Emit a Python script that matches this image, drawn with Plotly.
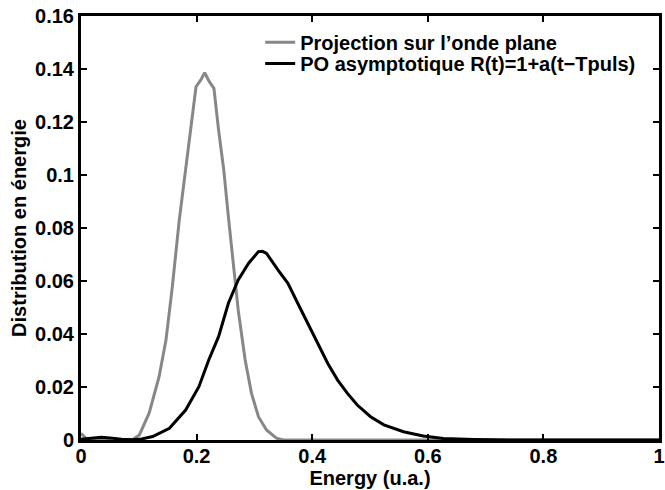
import plotly.graph_objects as go

# --- data ---
proj_x = [0, 0.01, 0.03, 0.06, 0.08, 0.09, 0.101, 0.118, 0.135, 0.147, 0.158, 0.170, 0.181,
          0.190, 0.199, 0.207, 0.214, 0.222, 0.230, 0.238, 0.247, 0.255, 0.264, 0.272,
          0.284, 0.295, 0.307, 0.321, 0.338, 0.35, 0.4, 0.6, 0.8, 1.0]
proj_y = [0.0025, 0.0003, 0, 0, 0, 0.0003, 0.0019, 0.0102, 0.0238, 0.0377, 0.0578, 0.083,
          0.1019, 0.118, 0.1333, 0.1358, 0.1386, 0.1352, 0.1327, 0.117, 0.1019, 0.0842,
          0.0667, 0.049, 0.0302, 0.0176, 0.0088, 0.0038, 0.0007, 0, 0, 0, 0, 0]

po_x = [0, 0.02, 0.035, 0.05, 0.07, 0.09, 0.105, 0.124, 0.153, 0.181, 0.204, 0.221, 0.238,
        0.255, 0.272, 0.290, 0.300, 0.307, 0.314, 0.321, 0.341, 0.358, 0.375, 0.392, 0.410,
        0.427, 0.444, 0.461, 0.478, 0.501, 0.524, 0.558, 0.592, 0.627, 0.68, 0.75, 0.85, 1.0]
po_y = [0.0003, 0.0008, 0.001, 0.0008, 0.0003, 0.0001, 0.0004, 0.0013, 0.0044, 0.0113,
        0.0201, 0.0302, 0.039, 0.0516, 0.0604, 0.0667, 0.0695, 0.0711, 0.0712, 0.0704,
        0.0641, 0.0591, 0.0516, 0.044, 0.0365, 0.0289, 0.0226, 0.0176, 0.0132, 0.0088,
        0.0057, 0.0031, 0.0015, 0.0006, 0.0002, 0, 0, 0]

series_names = ["Projection sur l\u2019onde plane", "PO asymptotique R(t)=1+a(t\u2212Tpuls)"]

x_tickvals = [0, 0.2, 0.4, 0.6, 0.8, 1.0]
x_ticktext = ["0", "0.2", "0.4", "0.6", "0.8", "1"]
y_tickvals = [0, 0.02, 0.04, 0.06, 0.08, 0.10, 0.12, 0.14, 0.16]
y_ticktext = ["0", "0.02", "0.04", "0.06", "0.08", "0.1", "0.12", "0.14", "0.16"]

FONT = "Liberation Sans, Arial, Helvetica, sans-serif"
BOLD20 = dict(family=FONT, size=20, color="black", weight="bold")

fig = go.Figure()
fig.add_trace(go.Scatter(x=proj_x, y=proj_y, mode="lines", name=series_names[0],
                         line=dict(color="#878787", width=3), legend="legend"))
fig.add_trace(go.Scatter(x=po_x, y=po_y, mode="lines", name=series_names[1],
                         line=dict(color="#000000", width=3), legend="legend2"))

axis_common = dict(showgrid=False, zeroline=False, showline=True, linecolor="black",
                   linewidth=3, mirror="allticks", ticks="inside", ticklen=6, tickwidth=2,
                   tickcolor="black", tickfont=BOLD20, ticklabeloverflow="allow")

fig.update_xaxes(range=[0, 1], tickvals=x_tickvals, ticktext=x_ticktext,
                 ticklabelstandoff=-4,
                 title=dict(text="Energy (u.a.)", standoff=0, font=BOLD20),
                 **axis_common)
fig.update_yaxes(range=[0, 0.16], tickvals=y_tickvals, ticktext=y_ticktext,
                 title=dict(text="Distribution en énergie", standoff=4, font=BOLD20),
                 **axis_common)

leg_common = dict(xanchor="left", yanchor="middle", bgcolor="rgba(255,255,255,0)",
                  borderwidth=0, font=BOLD20, itemwidth=30)
fig.update_layout(
    width=665, height=490,
    margin=dict(l=81, r=0, t=16, b=50),
    paper_bgcolor="white", plot_bgcolor="white",
    showlegend=True,
    legend=dict(x=0.31, y=0.938, **leg_common),
    legend2=dict(x=0.31, y=0.888, **leg_common),
)

fig.write_html("out.html")
